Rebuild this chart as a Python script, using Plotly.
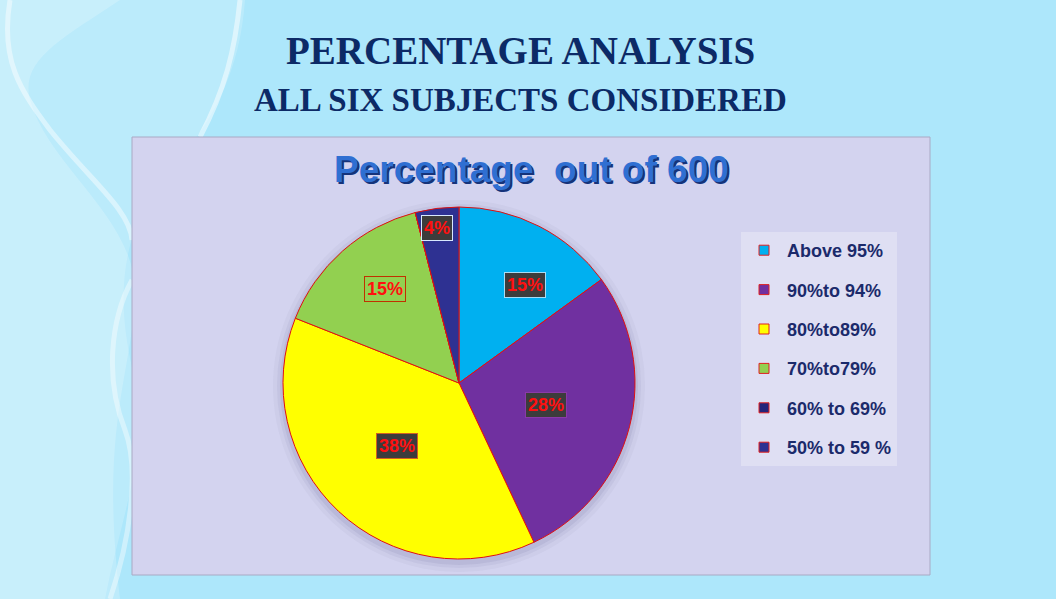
import math
import plotly.graph_objects as go

W, H = 1056, 599

# ---- data ----
categories = ["Above 95%", "90%to 94%", "80%to89%", "70%to79%", "60% to 69%", "50% to 59 %"]
percent_values = [15, 28, 38, 15, 0, 4]
slice_colors = ["#00b0f0", "#7030a0", "#ffff00", "#92d050", "#23247a", "#2e3192"]

# ---- layout constants ----
label_radius = [0.67, 0.51, 0.50, 0.68, 0.8, 0.89]
label_angle_frac = [0.63, 0.5, 0.51, 0.56, 0.5, 0.44]
label_bg = ["#3c3c3c", "#3c3c3c", "#3c3c3c", "#92d050", "#3c3c3c", "#3c3c3c"]
label_border = ["#a8dcf4", "#8a3aa8", "#d06020", "#c03000", "#ffffff", "#d8e8ff"]
CX, CY, R = 459, 383, 176


def px(x, y):
    return x / W, 1 - y / H


def path(points_cmd):
    out = []
    for item in points_cmd:
        if isinstance(item, str):
            out.append(item)
        else:
            x, y = px(*item)
            out.append(f"{x:.5f},{y:.5f}")
    return " ".join(out)


fig = go.Figure()

fig.add_trace(go.Pie(
    labels=categories,
    values=percent_values,
    sort=False,
    direction="clockwise",
    rotation=0,
    marker=dict(colors=slice_colors, line=dict(color="#e01010", width=1)),
    textinfo="none",
    hoverinfo="label+percent",
    showlegend=False,
    domain=dict(x=[(CX - R) / W, (CX + R) / W], y=[1 - (CY + R) / H, 1 - (CY - R) / H]),
))

# legend entries
for name, col in zip(categories, slice_colors):
    fig.add_trace(go.Scatter(
        x=[None], y=[None], mode="markers", name=name, legendgroup=name,
        marker=dict(symbol="square", size=10, color=col, line=dict(color="#e02020", width=1)),
    ))

shapes = []
# background waves
shapes.append(dict(type="path", xref="paper", yref="paper", layer="below",
                   path=path(["M", (0, 0), "L", (245, 0), "C", (240, 70), (215, 120), (170, 170),
                              "C", (110, 240), (120, 320), (135, 380), "C", (150, 450), (120, 520), (105, 599),
                              "L", (0, 599), "Z"]),
                   fillcolor="rgba(255,255,255,0.18)", line=dict(width=0)))
shapes.append(dict(type="path", xref="paper", yref="paper", layer="below",
                   path=path(["M", (0, 0), "L", (120, 0), "C", (60, 40), (20, 60), (30, 100),
                              "C", (50, 170), (140, 220), (135, 300), "C", (130, 380), (100, 430), (120, 599),
                              "L", (0, 599), "Z"]),
                   fillcolor="rgba(255,255,255,0.2)", line=dict(width=0)))
shapes.append(dict(type="path", xref="paper", yref="paper", layer="below",
                   path=path(["M", (10, 0), "C", (0, 60), (20, 90), (50, 130), "C", (90, 180), (130, 210), (132, 240)]),
                   line=dict(color="rgba(255,255,255,0.45)", width=5)))
shapes.append(dict(type="path", xref="paper", yref="paper", layer="below",
                   path=path(["M", (240, 0), "C", (235, 50), (225, 90), (200, 137)]),
                   line=dict(color="rgba(255,255,255,0.5)", width=5)))
shapes.append(dict(type="path", xref="paper", yref="paper", layer="below",
                   path=path(["M", (132, 280), "C", (110, 320), (105, 380), (125, 430), "C", (140, 470), (130, 540), (110, 599)]),
                   line=dict(color="rgba(255,255,255,0.4)", width=5)))

# chart area box
x0, y1 = px(132, 137)
x1, y0 = px(930, 575)
shapes.append(dict(type="rect", xref="paper", yref="paper", layer="below",
                   x0=x0, x1=x1, y0=y0, y1=y1, fillcolor="#d3d3ef",
                   line=dict(color="#a9a9c4", width=1)))
# pie glow
for k, a in [(10, 0.05), (6, 0.07), (3, 0.1)]:
    gx0, gy1 = px(CX - R - k, CY - R - k + 3)
    gx1, gy0 = px(CX + R + k, CY + R + k + 3)
    shapes.append(dict(type="circle", xref="paper", yref="paper", layer="below",
                       x0=gx0, x1=gx1, y0=gy0, y1=gy1,
                       fillcolor=f"rgba(90,90,140,{a})", line=dict(width=0)))

annotations = []


def note(text, x, y, **kw):
    ax, ay = px(x, y)
    d = dict(text=text, x=ax, y=ay, xref="paper", yref="paper", showarrow=False,
             xanchor="center", yanchor="middle")
    d.update(kw)
    annotations.append(d)


# titles
note("<b>PERCENTAGE ANALYSIS</b>", 520, 51, font=dict(family="Liberation Serif", size=39, color="#0c2a66"))
note("<b>ALL SIX SUBJECTS CONSIDERED</b>", 520, 100, font=dict(family="Liberation Serif", size=33, color="#0c2a66"))
# chart title with shadow
tx, ty = 531, 170
note("<b>Percentage  out of 600</b>", tx + 2, ty + 2,
     font=dict(family="Liberation Sans", size=37, color="#15337a"))
note("<b>Percentage  out of 600</b>", tx, ty, font=dict(family="Liberation Sans", size=37, color="#2f6fd2"))

# data labels, positioned from the slice angles
total = sum(percent_values)
cum = 0
for i, v in enumerate(percent_values):
    if v > 0:
        mid = (cum + v * label_angle_frac[i]) / total * 2 * math.pi
        lx = CX + label_radius[i] * R * math.sin(mid)
        ly = CY - label_radius[i] * R * math.cos(mid)
        note(f"<b>{round(v / total * 100)}%</b>", lx, ly,
             bgcolor=label_bg[i], bordercolor=label_border[i], borderwidth=1, borderpad=2,
             font=dict(family="Liberation Sans", size=18, color="#ff1010"))
    cum += v

lx, ly = px(741, 232)
fig.update_layout(
    width=W, height=H,
    margin=dict(l=0, r=0, t=0, b=0),
    paper_bgcolor="#ade7fb",
    plot_bgcolor="rgba(0,0,0,0)",
    xaxis=dict(visible=False), yaxis=dict(visible=False),
    shapes=shapes,
    annotations=annotations,
    legend=dict(x=lx, y=ly, xanchor="left", yanchor="top",
                bgcolor="#dfdff3", borderwidth=0,
                font=dict(family="Liberation Sans", size=18, color="#1b2a6b", weight="bold"),
                tracegroupgap=13, itemwidth=36,
                traceorder="grouped"),
    showlegend=True,
)

fig.write_html("out.html", config={"displayModeBar": False},
               post_script="document.body.style.margin='0';")
